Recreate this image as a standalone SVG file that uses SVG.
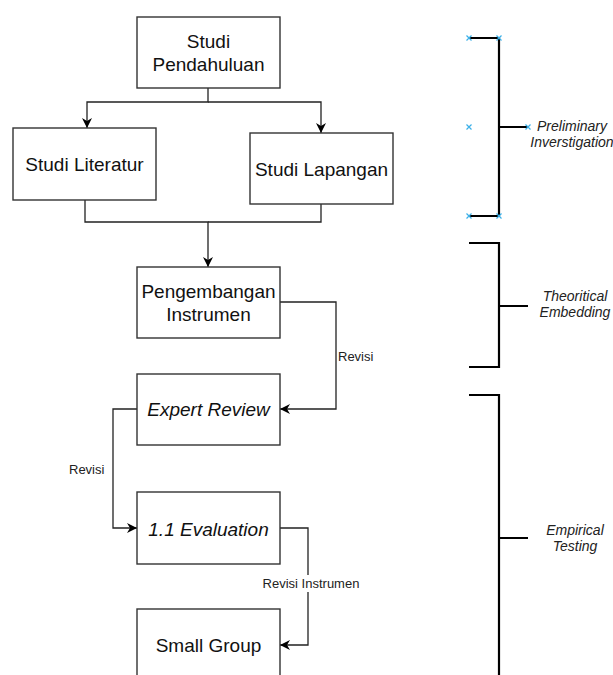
<svg xmlns="http://www.w3.org/2000/svg" width="613" height="675" viewBox="0 0 613 675">
<style>
.box{fill:#fff;stroke:#333;stroke-width:1.4}
.t{font-family:"Liberation Sans",Arial,sans-serif;font-size:19px;fill:#111;text-anchor:middle}
.i{font-style:italic}
.c{fill:none;stroke:#222;stroke-width:1.3}
.lbl{font-family:"Liberation Sans",Arial,sans-serif;font-size:13px;fill:#222}
.br{fill:none;stroke:#000;stroke-width:2.2}
.bl{font-family:"Liberation Sans",Arial,sans-serif;font-size:14px;font-style:italic;fill:#222;text-anchor:middle}
.x{stroke:#3bb0e8;stroke-width:1.2;fill:none}
</style>
<defs>
<marker id="a" viewBox="0 0 10 10" refX="10" refY="5" markerWidth="10" markerHeight="10" markerUnits="userSpaceOnUse" orient="auto">
<path d="M0,0 L10,5 L0,10 L3,5 z" fill="#000"/>
</marker>
</defs>
<rect width="613" height="675" fill="#fff"/>
<g id="connectors">
<path class="c" d="M208,88 V102 H87 V128" marker-end="url(#a)"/>
<path class="c" d="M208,102 H321 V133" marker-end="url(#a)"/>
<path class="c" d="M85,200 V222 H208 V267" marker-end="url(#a)"/>
<path class="c" d="M321,204 V222 H208"/>
<path class="c" d="M280,302 H336 V409 H280" marker-end="url(#a)"/>
<path class="c" d="M137,409 H113 V528 H137" marker-end="url(#a)"/>
<path class="c" d="M280,528 H308 V645 H280" marker-end="url(#a)"/>
<text class="lbl" x="338" y="361" font-size="13.5">Revisi</text>
<text class="lbl" x="69" y="474" font-size="13.5">Revisi</text>
<rect x="262" y="575" width="99" height="17" fill="#fff"/>
<text class="lbl" x="311" y="588" text-anchor="middle">Revisi Instrumen</text>
</g>
<g id="studi-pendahuluan">
<rect class="box" x="137" y="17" width="143" height="71"/>
<text class="t" x="208.5" y="48">Studi</text>
<text class="t" x="208.5" y="71">Pendahuluan</text>
</g>
<g id="studi-literatur">
<rect class="box" x="13" y="128" width="143" height="72"/>
<text class="t" x="84.5" y="171">Studi Literatur</text>
</g>
<g id="studi-lapangan">
<rect class="box" x="250" y="133" width="143" height="71"/>
<text class="t" x="321.5" y="176">Studi Lapangan</text>
</g>
<g id="pengembangan-instrumen">
<rect class="box" x="137" y="267" width="143" height="71"/>
<text class="t" x="208.5" y="298">Pengembangan</text>
<text class="t" x="208.5" y="321">Instrumen</text>
</g>
<g id="expert-review">
<rect class="box" x="137" y="374" width="143" height="71"/>
<text class="t i" x="208.5" y="416">Expert Review</text>
</g>
<g id="evaluation">
<rect class="box" x="137" y="492" width="143" height="72"/>
<text class="t i" x="208.5" y="536">1.1 Evaluation</text>
</g>
<g id="small-group">
<rect class="box" x="137" y="609" width="143" height="80"/>
<text class="t" x="208.5" y="652">Small Group</text>
</g>
<g id="bracket-preliminary">
<path class="br" d="M469,38 H499 V216 H469 M499,127 H528"/>
<path class="x" d="M466.5,35.5 l5,5 m0,-5 l-5,5 M496.5,35.5 l5,5 m0,-5 l-5,5 M466.5,124.5 l5,5 m0,-5 l-5,5 M525.5,124.5 l5,5 m0,-5 l-5,5 M466.5,213.5 l5,5 m0,-5 l-5,5 M496.5,213.5 l5,5 m0,-5 l-5,5"/>
<text class="bl" x="572" y="131">Preliminary</text>
<text class="bl" x="572" y="147">Inverstigation</text>
</g>
<g id="bracket-theoritical">
<path class="br" d="M469,243 H499 V367 H469 M499,306 H528"/>
<text class="bl" x="575" y="301">Theoritical</text>
<text class="bl" x="575" y="317">Embedding</text>
</g>
<g id="bracket-empirical">
<path class="br" d="M469,395 H499 V680 M499,538 H528"/>
<text class="bl" x="575" y="535">Empirical</text>
<text class="bl" x="575" y="551">Testing</text>
</g>
</svg>
